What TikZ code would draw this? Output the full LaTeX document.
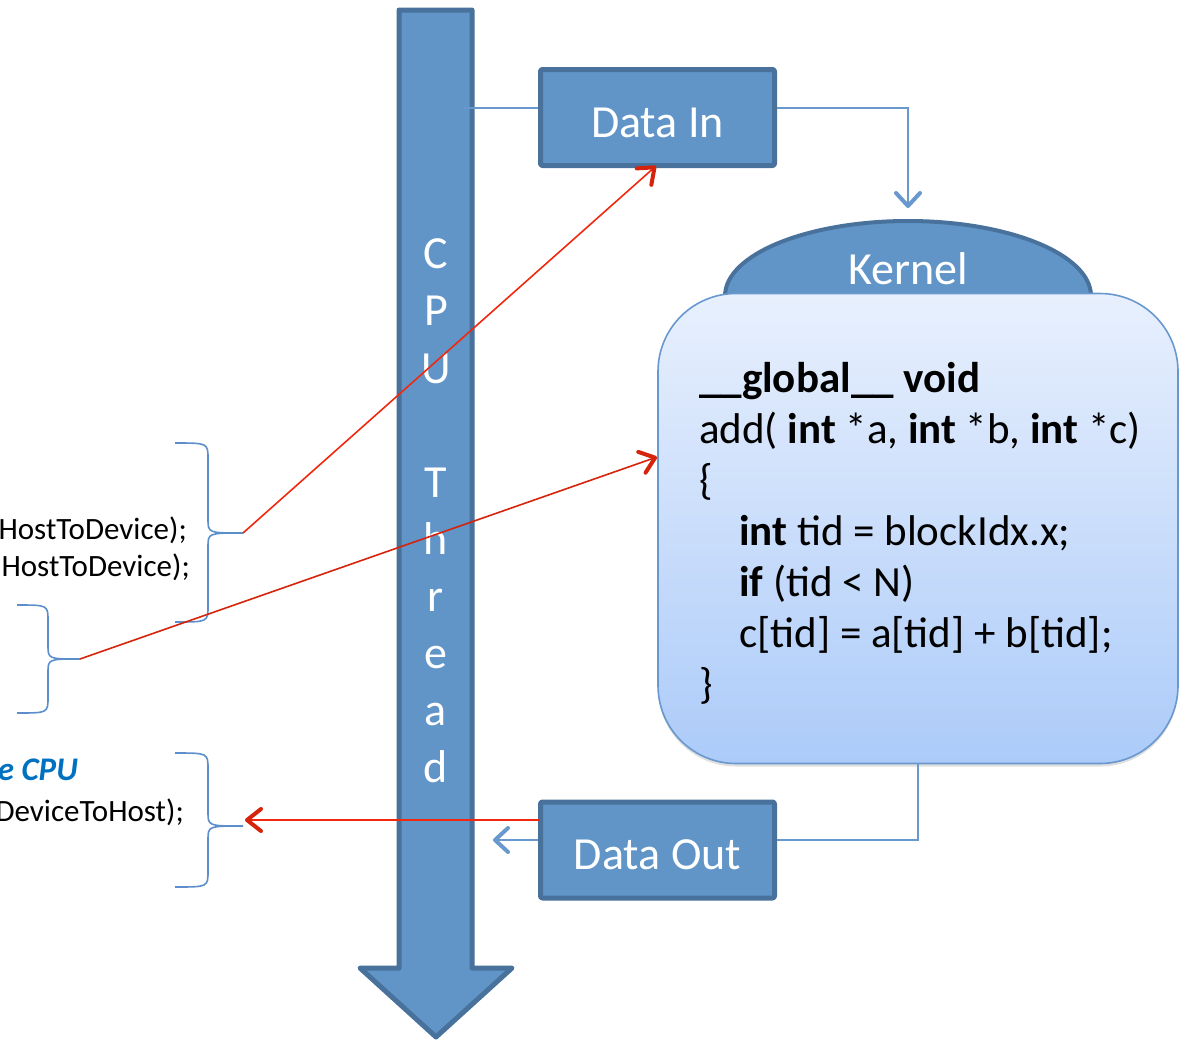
\documentclass[tikz,border=0pt]{standalone}
\usepackage{fontspec}
\setmainfont{Carlito}
\usetikzlibrary{arrows.meta,shadows,calc}

\definecolor{boxfill}{RGB}{97,149,200}
\definecolor{boxedge}{RGB}{72,114,156}
\definecolor{linkblue}{RGB}{104,152,206}
\definecolor{bracecol}{RGB}{92,142,204}
\definecolor{kerneltop}{RGB}{232,240,253}
\definecolor{kernelbot}{RGB}{172,203,249}
\definecolor{redline}{RGB}{240,40,14}
\definecolor{redtip}{RGB}{214,36,12}
\definecolor{cpublue}{RGB}{0,112,192}

\newcommand{\fsz}[2]{\fontsize{#1}{#2}\selectfont}
\newcommand{\sidebrace}[6]{% x0, xm, xt, ytop, ymid, ybot
  \draw[bracestyle] (#1,#4) .. controls (#2,#4) and (#2,#4) .. (#2,#4+16)
    -- (#2,#5-14) .. controls (#2,#5) and (#2,#5) .. (#3,#5)
    .. controls (#2,#5) and (#2,#5) .. (#2,#5+14)
    -- (#2,#6-16) .. controls (#2,#6) and (#2,#6) .. (#1,#6);}
% label whose baseline sits a fixed distance below the box centre
\newcommand{\boxlabel}[1]{\raisebox{-19.5pt}[0pt][0pt]{#1}}

\tikzset{
  blockshape/.style={draw=boxedge, fill=boxfill, line width=5pt, line join=round},
  databox/.style={blockshape, rounded corners=2pt, minimum width=234pt,
    minimum height=96pt, inner sep=0pt, text=white, font=\fsz{46}{56}},
  conn/.style={draw=linkblue, line width=1.6pt},
  bluetip/.style={-{Straight Barb[length=13pt,width=24pt,line width=4pt,round]}},
  redlink/.style={draw=redline, line width=1.6pt,
    -{Straight Barb[length=14pt,width=22pt,line width=4pt,round,color=redtip]}},
  bracestyle/.style={draw=bracecol, line width=1.6pt},
  lefttext/.style={anchor=base east, inner sep=0pt, font=\fsz{31}{37}},
  codeline/.style={anchor=base west, inner sep=0pt, font=\fsz{43}{51}},
  cpuletter/.style={anchor=base, inner sep=0pt, text=white, font=\fsz{46}{57}}
}

\begin{document}
\begin{tikzpicture}[x=1pt,y=-1pt]
\useasboundingbox (0,0) rectangle (1180,1042);

% ---------- CPU thread arrow ----------
\path[blockshape] (399,10) -- (472,10) -- (472,968) -- (512,968) -- (436,1037)
  -- (360,968) -- (399,968) -- cycle;
\foreach \ch/\yy in {C/268,P/325,U/383,T/497,h/554,r/611,e/668,a/725,d/782}
  \node[cpuletter] at (436,\yy) {\ch};
\coordinate (cpuin) at (463,108);
\coordinate (cpuout) at (493,840);

% ---------- Kernel ----------
\path[blockshape, line width=4pt] (908,296) ellipse [x radius=183, y radius=75];
\node[anchor=base, text=white, font=\fsz{46}{56}, inner sep=0pt] (klabel) at (908,284) {Kernel};
\node[draw=linkblue, line width=1.6pt, rounded corners=78pt,
  top color=kerneltop, bottom color=kernelbot,
  drop shadow={shadow xshift=0pt, shadow yshift=-3pt, opacity=0.25},
  minimum width=520pt, minimum height=470pt, inner sep=0pt] (kbox) at (918,528.5) {};

\node[codeline] (c1) at (699,392) {\textbf{\_\_global\_\_ void}};
\node[codeline] (c2) at (699,443) {add( \textbf{int} *a, \textbf{int} *b, \textbf{int} *c)};
\node[codeline] (c3) at (699,494) {\{};
\node[codeline] (c4) at (739,545) {\textbf{int} tid = blockIdx.x;};
\node[codeline] (c5) at (739,596) {\textbf{if} (tid < N)};
\node[codeline] (c6) at (739,647) {c[tid] = a[tid] + b[tid];};
\node[codeline] (c7) at (699,698) {\}};

% ---------- Data boxes ----------
\node[databox] (din) at (657.5,117.5) {\boxlabel{Data In}};
\node[databox] (dout) at (657.5,850) {\boxlabel{Data Out}};
\coordinate (kin) at (908,208);

\draw[conn] (cpuin) -- (cpuin -| din.west);
\draw[conn, bluetip] (din.east |- cpuin) -| (kin);
\draw[conn] (kbox.south) |- (dout.east |- cpuout);
\draw[conn, bluetip] (dout.west |- cpuout) -- (cpuout);

% ---------- Host code fragments ----------
\node[lefttext] (h1) at (187,539) {HostToDevice);};
\node[lefttext] (h2) at (190,576) {HostToDevice);};
\node[lefttext, text=cpublue, font=\fsz{33}{37}\bfseries\itshape] (h3) at (78,780) {e CPU};
\node[lefttext] (h4) at (184,821) {DeviceToHost);};

% ---------- Braces ----------
\sidebrace{175}{208}{243}{443}{533}{622}
\sidebrace{17}{48}{80}{605}{659}{713}
\sidebrace{175}{208}{243}{753}{826}{887}
\coordinate (b1) at (243,533);
\coordinate (b2) at (80,659);
\coordinate (b3) at (245,820);
\coordinate (dinhit) at (656,166);
\coordinate (khit) at (657,457);
\coordinate (douthit) at (540,820);

% ---------- Red links ----------
\draw[redlink] (b1) -- (dinhit);
\draw[redlink, draw=redtip] (b2) -- (khit);
\draw[redlink] (douthit) -- (b3);
\end{tikzpicture}
\end{document}
